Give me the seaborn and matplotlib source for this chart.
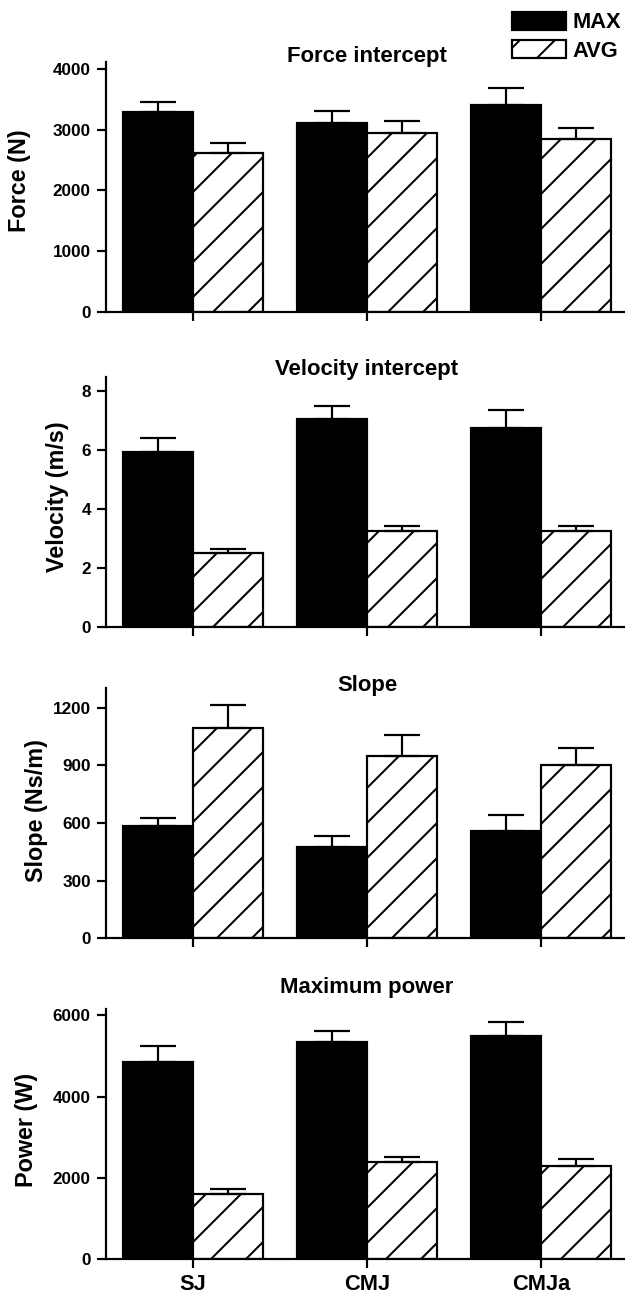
import pandas as pd
import matplotlib
matplotlib.use('Agg')
import matplotlib.pyplot as plt
import matplotlib.transforms as mtransforms
import seaborn as sns
from matplotlib.patches import Patch

# Jump types and conditions
jumps = ['SJ', 'CMJ', 'CMJa']
conditions = ['MAX', 'AVG']

# Values (mean and upper SD)
force_max = [3290, 3110, 3400]
force_max_sd = [160, 195, 275]
force_avg = [2610, 2950, 2850]
force_avg_sd = [165, 190, 175]

velocity_max = [5.93, 7.05, 6.77]
velocity_max_sd = [0.47, 0.46, 0.60]
velocity_avg = [2.49, 3.26, 3.26]
velocity_avg_sd = [0.16, 0.16, 0.17]

slope_max = [583, 477, 560]
slope_max_sd = [45, 55, 80]
slope_avg = [1095, 950, 903]
slope_avg_sd = [120, 105, 87]

power_max = [4846, 5335, 5490]
power_max_sd = [390, 280, 340]
power_avg = [1600, 2385, 2300]
power_avg_sd = [125, 130, 165]

titles = ['Force intercept', 'Velocity intercept', 'Slope', 'Maximum power']
ylabels = ['Force (N)', 'Velocity (m/s)', 'Slope (Ns/m)', 'Power (W)']
yticks = [[0, 1000, 2000, 3000, 4000], [0, 2, 4, 6, 8],
          [0, 300, 600, 900, 1200], [0, 2000, 4000, 6000]]
ymax = [4110, 8.5, 1300, 6150]

panels = [
    (force_max, force_max_sd, force_avg, force_avg_sd),
    (velocity_max, velocity_max_sd, velocity_avg, velocity_avg_sd),
    (slope_max, slope_max_sd, slope_avg, slope_avg_sd),
    (power_max, power_max_sd, power_avg, power_avg_sd),
]

sns.set_style('ticks', rc={'axes.edgecolor': 'black', 'text.color': 'black',
                           'axes.labelcolor': 'black', 'xtick.color': 'black',
                           'ytick.color': 'black'})
plt.rcParams['font.family'] = ['Liberation Sans', 'DejaVu Sans']
plt.rcParams['font.weight'] = 'bold'
plt.rcParams['hatch.linewidth'] = 0.7
plt.rcParams['hatch.color'] = 'black'
plt.rcParams['axes.linewidth'] = 0.75

W, H, DPI = 625, 1299, 210
fig = plt.figure(figsize=(W / DPI, H / DPI), dpi=DPI)

# layout in pixels / axes fractions
ax_bottoms = [312, 626.7, 938.3, 1259.3]
title_y = [1.001, 1.007, 0.990, 1.064]
label_x = [-0.143, -0.071, -0.112, -0.131]
label_y = [0.526, 0.519, 0.509, 0.517]
ax_h = 250

for i, (mx, mx_sd, av, av_sd) in enumerate(panels):
    ax = fig.add_axes([106 / W, 1 - ax_bottoms[i] / H, 522 / W, ax_h / H])
    df = pd.DataFrame({
        'jump': jumps * 2,
        'cond': ['MAX'] * 3 + ['AVG'] * 3,
        'value': list(mx) + list(av),
    })
    sns.barplot(data=df, x='jump', y='value', hue='cond', order=jumps,
                hue_order=conditions, palette={'MAX': 'black', 'AVG': 'white'},
                edgecolor='black', linewidth=0.75, errorbar=None, width=0.8,
                saturation=1, legend=False, ax=ax)
    for bar in ax.containers[1]:
        bar.set_hatch('//')
    for cont, sd in zip(ax.containers, [mx_sd, av_sd]):
        xs = [p.get_x() + p.get_width() / 2 for p in cont]
        ys = [p.get_height() for p in cont]
        ax.errorbar(xs, ys, yerr=[[0] * len(sd), sd], fmt='none', ecolor='black',
                    elinewidth=0.75, capsize=6.2, capthick=0.75, zorder=1)
    ax.set_xlim(-0.5, 2.5)
    ax.set_ylim(0, ymax[i])
    ax.set_yticks(yticks[i])
    ax.set_xlabel('')
    ax.set_ylabel(ylabels[i], fontsize=8, fontweight='bold')
    ax.yaxis.set_label_coords(label_x[i], label_y[i])
    sns.despine(ax=ax)
    ax.tick_params(axis='both', length=3, width=0.75, color='black')
    ax.tick_params(axis='y', labelsize=5.9, pad=2.2)
    ax.tick_params(axis='x', labelsize=7.5, pad=2.2)
    if i < 3:
        ax.set_xticklabels([])
    trans = mtransforms.blended_transform_factory(ax.transData, ax.transAxes)
    ax.text(1, title_y[i], titles[i], transform=trans, ha='center', va='baseline',
            fontsize=7.6, fontweight='bold', clip_on=False)

handles = [Patch(facecolor='black', edgecolor='black', linewidth=0.75, label='MAX'),
           Patch(facecolor='white', edgecolor='black', linewidth=0.75, hatch='//', label='AVG')]
fig.legend(handles=handles, loc='upper left', bbox_to_anchor=(511.7 / W, 1 - 11.5 / H),
           frameon=False, borderpad=0, borderaxespad=0,
           handlelength=2.47, handleheight=0.95, handletextpad=0.3, labelspacing=0.28,
           prop={'weight': 'bold', 'size': 7.5})

fig.savefig('out.png', dpi=DPI)
